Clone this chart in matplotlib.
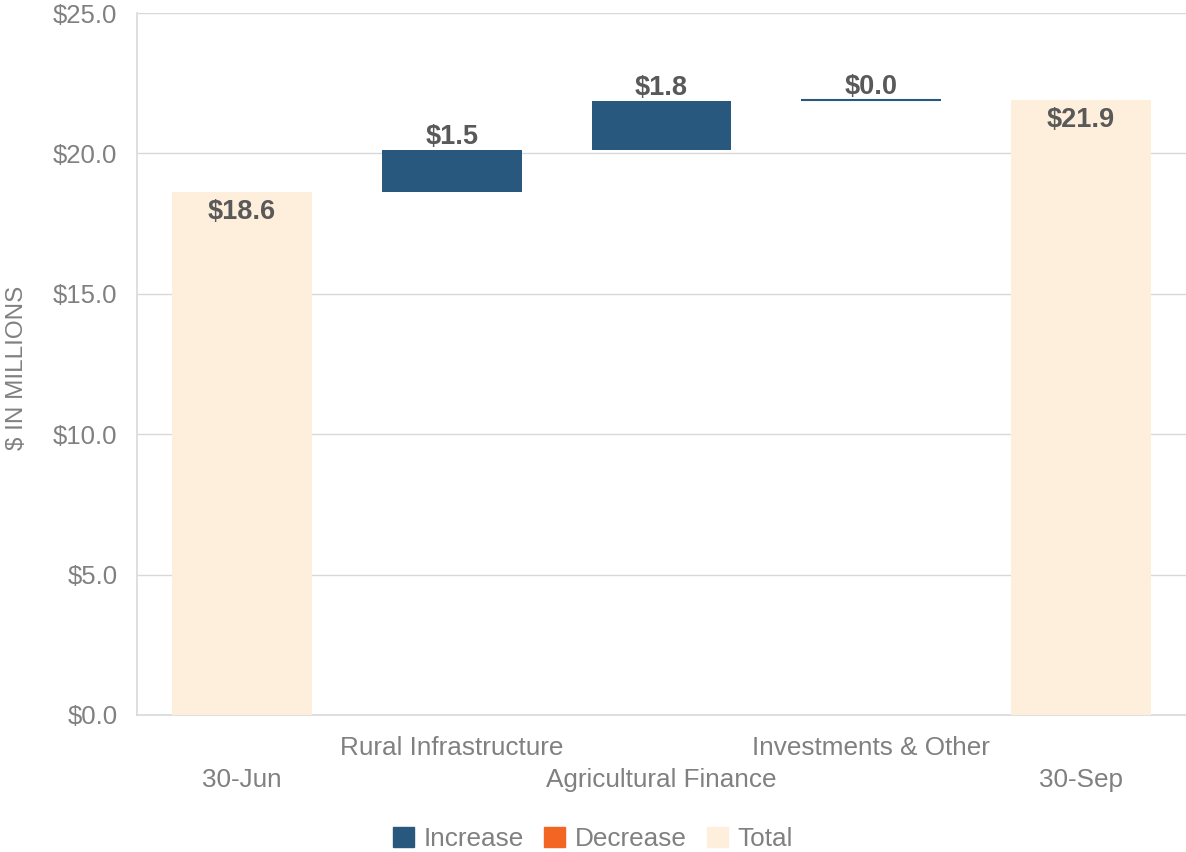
import matplotlib.pyplot as plt
from matplotlib.patches import Patch

plt.rcParams['font.family'] = ['Liberation Sans', 'DejaVu Sans']

# Data
categories = ["30-Jun", "Rural Infrastructure", "Agricultural Finance", "Investments & Other", "30-Sep"]
changes = [18.62, 1.50, 1.75, 0.02, None]
kinds = ["total", "increase", "increase", "increase", "total"]
labels = ["$18.6", "$1.5", "$1.8", "$0.0", "$21.9"]

colors = {"increase": "#28587e", "decrease": "#f26522", "total": "#fdefdc"}
grey = "#808080"
dark = "#595959"

# Build waterfall bottoms / heights
bottoms, heights = [], []
running = 0.0
for c, k in zip(changes, kinds):
    if k == "total":
        if c is None:
            c = running
        bottoms.append(0)
        heights.append(c)
        running = c
    else:
        bottoms.append(running)
        heights.append(c)
        running += c

fig = plt.figure(figsize=(11.86, 8.52), dpi=100)
ax = fig.add_axes([0.1155, 0.1608, 0.8845, 0.8239])

x = range(len(categories))
ax.bar(x, heights, bottom=bottoms, width=0.667,
       color=[colors[k] for k in kinds], zorder=3)

# thin line for the near-zero change
for i, (h, k) in enumerate(zip(heights, kinds)):
    if k != "total" and h < 0.1:
        ax.hlines(bottoms[i] + h, i - 0.333, i + 0.333, color=colors[k], lw=1.5, zorder=4)

# value labels
for i, (b, h, k, lab) in enumerate(zip(bottoms, heights, kinds, labels)):
    top = b + h
    if k == "total":
        ax.annotate(lab, (i, top), xytext=(0, -5), textcoords="offset points",
                    ha="center", va="top", fontsize=19.5, fontweight="bold", color=dark)
    else:
        ax.annotate(lab, (i, top), xytext=(0, 0), textcoords="offset points",
                    ha="center", va="bottom", fontsize=19.5, fontweight="bold", color=dark)

ax.set_xlim(-0.5, len(categories) - 0.5)
ax.set_ylim(0, 25)
ax.set_yticks([0, 5, 10, 15, 20, 25])
ax.set_yticklabels([f"${v:.1f}" for v in [0, 5, 10, 15, 20, 25]])
ax.tick_params(axis="y", length=0, pad=14, labelsize=18.5, labelcolor=grey)
ax.set_xticks([])

# staggered category labels
for i, name in enumerate(categories):
    y = -0.047 if i % 2 == 1 else -0.092
    ax.text(i, y, name, transform=ax.get_xaxis_transform(), ha="center", va="center",
            fontsize=18.8, color=grey)

ax.set_ylabel("$ IN MILLIONS", fontsize=17.5, color=grey)
ax.yaxis.set_label_coords(-0.104, 0.495)
ax.grid(axis="y", color="#d9d9d9", lw=1, zorder=0)
for s in ["top", "right"]:
    ax.spines[s].set_visible(False)
for s in ["left", "bottom"]:
    ax.spines[s].set_color("#d9d9d9")
    ax.spines[s].set_linewidth(1.2)

handles = [Patch(color=colors["increase"], label="Increase"),
           Patch(color=colors["decrease"], label="Decrease"),
           Patch(color=colors["total"], label="Total")]
fig.legend(handles=handles, loc="lower center", bbox_to_anchor=(0.5, -0.026), ncol=3,
           frameon=False, fontsize=18.8, labelcolor=grey, handlelength=0.8, handleheight=0.8,
           handletextpad=0.35, columnspacing=0.8)

fig.savefig("out.png", dpi=100)
